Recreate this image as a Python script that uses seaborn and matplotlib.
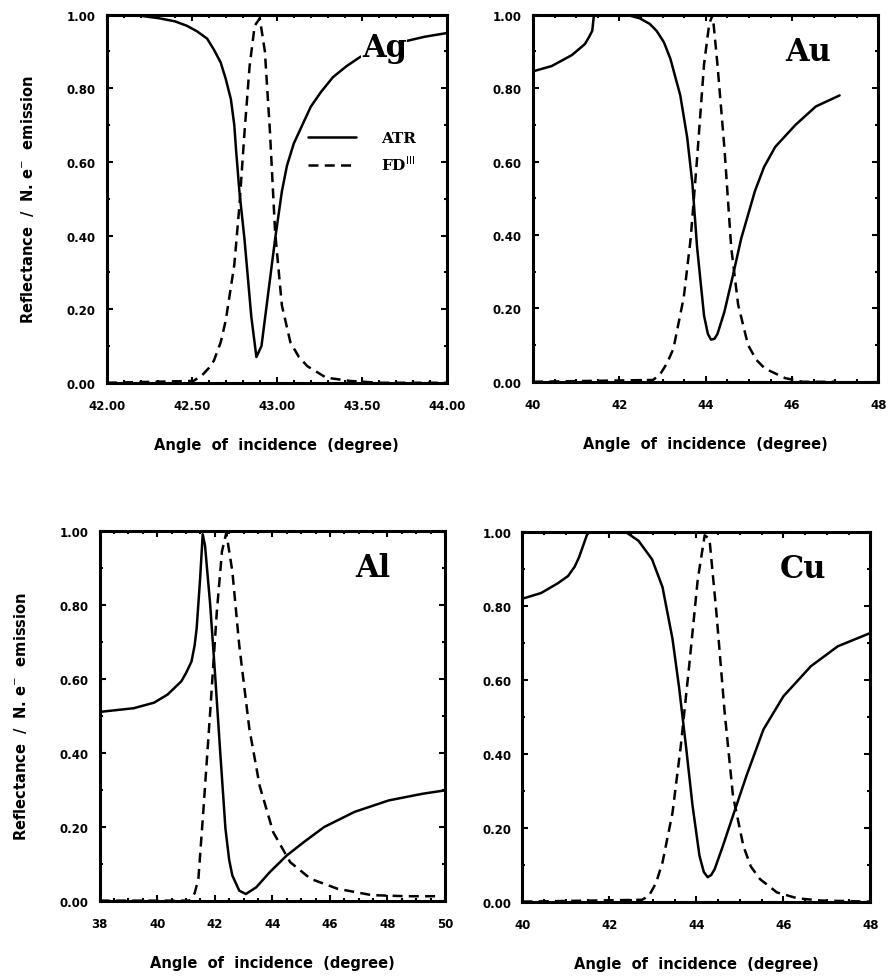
import numpy as np
import pandas as pd
import seaborn as sns
import matplotlib.pyplot as plt
from matplotlib.ticker import FormatStrFormatter, MultipleLocator

# --- data ---
ag_atr_x = [42.0, 42.2, 42.31, 42.4, 42.47, 42.53, 42.59, 42.63, 42.67, 42.70, 42.73, 42.75,
            42.76, 42.78, 42.81, 42.85, 42.88, 42.91, 42.95, 42.99, 43.03, 43.06, 43.10, 43.15,
            43.20, 43.26, 43.33, 43.41, 43.49, 43.6, 43.73, 43.87, 44.0]
ag_atr_y = [1.0, 0.997, 0.99, 0.982, 0.97, 0.955, 0.935, 0.905, 0.87, 0.825, 0.77, 0.70,
            0.635, 0.52, 0.39, 0.18, 0.07, 0.10, 0.245, 0.39, 0.52, 0.59, 0.65, 0.70,
            0.75, 0.79, 0.83, 0.86, 0.885, 0.905, 0.925, 0.94, 0.95]
ag_fd_x = [42.0, 42.51, 42.56, 42.60, 42.63, 42.67, 42.70, 42.75, 42.78, 42.81, 42.84, 42.87,
           42.90, 42.93, 42.96, 42.99, 43.03, 43.08, 43.13, 43.18, 43.29, 43.43, 43.6, 44.0]
ag_fd_y = [0.0, 0.005, 0.02, 0.04, 0.06, 0.11, 0.17, 0.32, 0.48, 0.68, 0.86, 0.97,
           0.99, 0.90, 0.68, 0.41, 0.21, 0.11, 0.07, 0.045, 0.014, 0.005, 0.0, 0.0]

au_atr_x = [40.04, 40.43, 40.9, 41.2, 41.3, 41.37, 41.41, 42.16, 42.47, 42.7, 42.86, 43.03,
            43.18, 43.41, 43.57, 43.69, 43.8, 43.96, 44.05, 44.12, 44.2, 44.27, 44.43, 44.63,
            44.82, 45.14, 45.35, 45.61, 46.08, 46.55, 47.1]
au_atr_y = [0.847, 0.86, 0.89, 0.92, 0.94, 0.956, 1.0, 1.0, 0.99, 0.975, 0.956, 0.925,
            0.88, 0.78, 0.665, 0.54, 0.365, 0.18, 0.13, 0.115, 0.117, 0.13, 0.19, 0.29,
            0.39, 0.52, 0.585, 0.64, 0.70, 0.75, 0.78]
au_fd_x = [40.0, 42.78, 42.94, 43.1, 43.25, 43.49, 43.65, 43.8, 43.96, 44.08, 44.16, 44.27,
           44.43, 44.59, 44.75, 44.98, 45.17, 45.37, 45.84, 46.24, 47.0]
au_fd_y = [0.0, 0.005, 0.02, 0.05, 0.09, 0.23, 0.39, 0.61, 0.865, 0.975, 1.0, 0.865,
           0.64, 0.365, 0.21, 0.10, 0.06, 0.036, 0.01, 0.0, 0.0]

al_atr_x = [38.0, 39.18, 39.89, 40.36, 40.84, 41.0, 41.19, 41.3, 41.37, 41.49, 41.58, 41.66,
            41.84, 42.02, 42.19, 42.37, 42.5, 42.61, 42.85, 43.08, 43.44, 43.91, 44.5, 45.09,
            45.8, 46.86, 48.05, 49.23, 50.0]
al_atr_y = [0.51, 0.52, 0.535, 0.557, 0.593, 0.615, 0.646, 0.69, 0.736, 0.87, 0.99, 0.96,
            0.80, 0.60, 0.40, 0.195, 0.11, 0.068, 0.027, 0.018, 0.036, 0.077, 0.122, 0.158,
            0.199, 0.24, 0.271, 0.289, 0.298]
al_fd_x = [38.0, 41.13, 41.3, 41.43, 41.6, 41.84, 42.07, 42.25, 42.4, 42.61, 42.85, 43.2,
           43.56, 44.03, 44.62, 45.33, 46.27, 47.45, 48.64, 49.82]
al_fd_y = [0.0, 0.0, 0.02, 0.059, 0.24, 0.51, 0.78, 0.944, 0.994, 0.89, 0.69, 0.465,
           0.31, 0.185, 0.104, 0.059, 0.032, 0.015, 0.012, 0.012]

cu_atr_x = [40.04, 40.43, 40.81, 41.05, 41.2, 41.3, 41.39, 41.51, 42.36, 42.67, 42.98, 43.22,
            43.45, 43.6, 43.76, 43.91, 44.07, 44.17, 44.26, 44.34, 44.42, 44.61, 44.84, 45.15,
            45.54, 46.0, 46.63, 47.25, 48.0]
cu_atr_y = [0.82, 0.834, 0.86, 0.88, 0.905, 0.93, 0.96, 1.0, 1.0, 0.975, 0.925, 0.85,
            0.71, 0.58, 0.42, 0.26, 0.124, 0.08, 0.066, 0.072, 0.088, 0.151, 0.232, 0.34,
            0.465, 0.555, 0.636, 0.69, 0.726]
cu_fd_x = [40.0, 42.75, 42.91, 43.07, 43.22, 43.45, 43.64, 43.84, 44.03, 44.19, 44.3, 44.46,
           44.65, 44.84, 45.08, 45.25, 45.46, 45.85, 46.32, 46.86, 48.0]
cu_fd_y = [0.0, 0.005, 0.016, 0.05, 0.106, 0.24, 0.42, 0.645, 0.87, 0.99, 0.98, 0.78,
           0.51, 0.286, 0.15, 0.095, 0.061, 0.025, 0.009, 0.003, 0.0]

metals = ["Ag", "Au", "Al", "Cu"]
xlims = [(42.0, 44.0), (40, 48), (38, 50), (40, 48)]
xmajor = [0.5, 2, 2, 2]
xminor = [0.1, 0.5, 0.5, 0.5]
xfmt = ["%.2f", "%d", "%d", "%d"]
series = [(ag_atr_x, ag_atr_y, ag_fd_x, ag_fd_y),
          (au_atr_x, au_atr_y, au_fd_x, au_fd_y),
          (al_atr_x, al_atr_y, al_fd_x, al_fd_y),
          (cu_atr_x, cu_atr_y, cu_fd_x, cu_fd_y)]

# panel boxes [left, bottom, width, height] in figure fraction
boxes = [[0.120, 0.608, 0.382, 0.376],
         [0.599, 0.609, 0.388, 0.375],
         [0.112, 0.079, 0.388, 0.378],
         [0.587, 0.078, 0.391, 0.378]]
label_pos = [(0.75, 0.91), (0.73, 0.90), (0.74, 0.90), (0.74, 0.90)]

sns.set_style("ticks")
plt.rcParams['font.family'] = ['DejaVu Sans']
plt.rcParams['text.color'] = 'black'
plt.rcParams['axes.labelcolor'] = 'black'
plt.rcParams['xtick.color'] = 'black'
plt.rcParams['ytick.color'] = 'black'
plt.rcParams['axes.edgecolor'] = 'black'

fig = plt.figure(figsize=(8.9, 9.79), dpi=100)

for i, metal in enumerate(metals):
    ax = fig.add_axes(boxes[i])
    ax_x, ax_y, fd_x, fd_y = series[i]
    sns.lineplot(x=ax_x, y=ax_y, ax=ax, color="black", lw=1.8, label="ATR" if i == 0 else None,
                 estimator=None, sort=False)
    sns.lineplot(x=fd_x, y=fd_y, ax=ax, color="black", lw=1.8, linestyle=(0, (4, 2.5)),
                 label="FD$^{\\rm III}$" if i == 0 else None, estimator=None, sort=False)
    ax.set_xlim(*xlims[i])
    ax.set_ylim(0, 1.0)
    ax.xaxis.set_major_locator(MultipleLocator(xmajor[i]))
    ax.xaxis.set_minor_locator(MultipleLocator(xminor[i]))
    ax.yaxis.set_major_locator(MultipleLocator(0.2))
    ax.yaxis.set_minor_locator(MultipleLocator(0.1))
    ax.xaxis.set_major_formatter(FormatStrFormatter(xfmt[i]))
    ax.yaxis.set_major_formatter(FormatStrFormatter("%.2f"))
    ax.tick_params(which="both", direction="in", top=True, right=True, width=1.5)
    ax.tick_params(which="major", length=4)
    ax.tick_params(which="minor", length=2)
    ax.tick_params(axis="x", which="major", pad=12, labelsize=8.5)
    ax.tick_params(axis="y", which="major", pad=8, labelsize=8.5)
    for lab in ax.get_xticklabels() + ax.get_yticklabels():
        lab.set_fontweight("bold")
    for sp in ax.spines.values():
        sp.set_linewidth(2.2)
        sp.set_visible(True)
    ax.set_xlabel("Angle  of  incidence  (degree)", fontsize=10.5, fontweight="bold", labelpad=18)
    if i in (0, 2):
        ax.set_ylabel("Reflectance  /  N. e$^{-}$  emission", fontsize=10.5, fontweight="bold",
                      labelpad=22)
    else:
        ax.set_ylabel("")
    ax.text(label_pos[i][0], label_pos[i][1], metal, transform=ax.transAxes, fontsize=22,
            fontweight="bold", family="DejaVu Serif", ha="left", va="center",
            bbox=dict(facecolor="white", edgecolor="none", pad=0.5) if i == 0 else None)
    if i == 0:
        ax.legend(loc="upper left", bbox_to_anchor=(0.55, 0.72), frameon=False,
                  handlelength=3.2, handletextpad=1.6, labelspacing=0.6,
                  prop={"weight": "bold", "family": "DejaVu Serif", "size": 11})
    else:
        if ax.get_legend() is not None:
            ax.get_legend().remove()

fig.savefig("out.png", dpi=100)
